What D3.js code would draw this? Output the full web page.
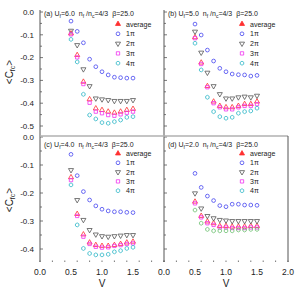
<!DOCTYPE html>
<meta charset="utf-8">
<style>
body { margin: 0; background: #fff; }
text { font-family: "Liberation Sans", Arial, sans-serif; fill: #222; }
</style>
<script src="https://cdnjs.cloudflare.com/ajax/libs/d3/7.8.5/d3.min.js"></script>
<svg width="300" height="291"></svg>
<script>

var V = [0.5, 0.6, 0.7, 0.8, 0.9, 1.0, 1.1, 1.2, 1.3, 1.4, 1.5];

var seriesNames = ["average", "1\u03c0", "2\u03c0", "3\u03c0", "4\u03c0"];

// (a) Uf=6.0
var aAvg = [-0.094,-0.189,-0.306,-0.383,-0.423,-0.430,-0.437,-0.442,-0.437,-0.430,-0.425];
var aPi1 = [-0.040,-0.085,-0.135,-0.207,-0.240,-0.262,-0.276,-0.286,-0.288,-0.290,-0.290];
var aPi2 = [-0.082,-0.145,-0.251,-0.325,-0.379,-0.383,-0.386,-0.390,-0.390,-0.390,-0.386];
var aPi3 = [-0.098,-0.199,-0.316,-0.398,-0.437,-0.444,-0.452,-0.455,-0.449,-0.442,-0.437];
var aPi4 = [-0.120,-0.219,-0.361,-0.452,-0.469,-0.485,-0.488,-0.481,-0.474,-0.462,-0.459];

// (b) Uf=5.0
var bAvg = [-0.111,-0.222,-0.325,-0.393,-0.412,-0.418,-0.418,-0.412,-0.404,-0.404,-0.393];
var bPi1 = [-0.053,-0.101,-0.167,-0.215,-0.247,-0.262,-0.272,-0.275,-0.276,-0.281,-0.278];
var bPi2 = [-0.086,-0.178,-0.266,-0.325,-0.360,-0.379,-0.379,-0.374,-0.371,-0.374,-0.367];
var bPi3 = [-0.115,-0.228,-0.330,-0.400,-0.418,-0.427,-0.427,-0.418,-0.412,-0.412,-0.404];
var bPi4 = [-0.137,-0.254,-0.374,-0.437,-0.459,-0.466,-0.462,-0.444,-0.437,-0.434,-0.422];

// (c) Uf=4.0
var cAvg = [-0.144,-0.275,-0.348,-0.377,-0.386,-0.389,-0.389,-0.386,-0.382,-0.377,-0.374];
var cPi1 = [-0.062,-0.138,-0.195,-0.225,-0.246,-0.258,-0.264,-0.267,-0.267,-0.269,-0.270];
var cPi2 = [-0.118,-0.225,-0.296,-0.332,-0.348,-0.354,-0.356,-0.354,-0.352,-0.350,-0.350];
var cPi3 = [-0.154,-0.282,-0.356,-0.382,-0.392,-0.395,-0.394,-0.389,-0.386,-0.382,-0.380];
var cPi4 = [-0.171,-0.314,-0.398,-0.416,-0.421,-0.421,-0.419,-0.410,-0.406,-0.398,-0.394];

// (d) Uf=2.0
var dAvg = [-0.231,-0.282,-0.302,-0.308,-0.318,-0.318,-0.320,-0.320,-0.320,-0.318,-0.318];
var dPi1 = [-0.130,-0.180,-0.211,-0.227,-0.245,-0.249,-0.240,-0.240,-0.243,-0.243,-0.244];
var dPi2 = [-0.201,-0.255,-0.282,-0.290,-0.296,-0.298,-0.300,-0.300,-0.300,-0.300,-0.300];
var dPi3 = [-0.237,-0.287,-0.308,-0.314,-0.323,-0.323,-0.325,-0.325,-0.325,-0.323,-0.323];
var dPi4 = [-0.261,-0.308,-0.330,-0.335,-0.335,-0.335,-0.335,-0.332,-0.332,-0.330,-0.330];

var topTicks = [0, -0.1, -0.2, -0.3, -0.4, -0.5];
var bottomTicks = [0, -0.1, -0.2, -0.3, -0.4];
var xTicks = [0, 0.5, 1.0, 1.5, 2.0];

var svg = d3.select("svg");

var colors = ["#ff3030", "#4646f0", "#555555", "#f030f0", "#30b8c8"];
var shapes = ["up", "circle", "down", "square", "hex"];

function markerPath(shape) {
  if (shape == "up") return d3.symbol().type(d3.symbolTriangle).size(11)();
  if (shape == "down") return d3.symbol().type(d3.symbolTriangle).size(11)();
  if (shape == "circle") return d3.symbol().type(d3.symbolCircle).size(11)();
  if (shape == "square") return d3.symbol().type(d3.symbolSquare).size(11)();
  var r = 2.0, pts = d3.range(6).map(function(i) {
    var a = Math.PI / 6 + i * Math.PI / 3;
    return [r * Math.cos(a), r * Math.sin(a)];
  });
  return d3.line()(pts) + "Z";
}

var panels = [
  {tag: "(a)", uf: "6.0", x0: 40, x1: 164, top: 10, bottom: 136, yd: [0, -0.5], yr: [12, 126],
   ticks: topTicks, labels: true, data: [aAvg, aPi1, aPi2, aPi3, aPi4], ty: 16, ly: 26.5, ls: 9.8},
  {tag: "(b)", uf: "5.0", x0: 164, x1: 288, top: 10, bottom: 136, yd: [0, -0.5], yr: [12, 126],
   ticks: topTicks, labels: false, data: [bAvg, bPi1, bPi2, bPi3, bPi4], ty: 16, ly: 26.5, ls: 9.8},
  {tag: "(c)", uf: "4.0", x0: 40, x1: 164, top: 136, bottom: 262, yd: [0, -0.4], yr: [137, 249],
   ticks: bottomTicks, labels: true, data: [cAvg, cPi1, cPi2, cPi3, cPi4], ty: 147, ly: 156, ls: 9.3},
  {tag: "(d)", uf: "2.0", x0: 164, x1: 288, top: 136, bottom: 262, yd: [0, -0.4], yr: [137, 249],
   ticks: bottomTicks, labels: false, data: [dAvg, dPi1, dPi2, dPi3, dPi4], ty: 147, ly: 156, ls: 9.3,
   colorOverride: {4: "#6cc070"}}
];

panels.forEach(function(p) {
  var x = d3.scaleLinear().domain([0, 2]).range([p.x0, p.x1]);
  var y = d3.scaleLinear().domain(p.yd).range(p.yr);
  var g = svg.append("g");

  // y axis line + ticks (inside)
  g.append("line").attr("x1", p.x0).attr("x2", p.x0).attr("y1", p.top).attr("y2", p.bottom)
    .attr("stroke", "#555").attr("stroke-width", 1);
  var minor = d3.range(0, p.ticks.length * 2 - 1).map(function(i) { return -i * 0.05; });
  g.selectAll(".ytk").data(minor).enter().append("line")
    .attr("x1", p.x0).attr("x2", function(d, i) { return p.x0 + (i % 2 ? 2 : 3); })
    .attr("y1", function(d) { return y(d); }).attr("y2", function(d) { return y(d); })
    .attr("stroke", "#555").attr("stroke-width", 0.8);
  if (p.labels) {
    g.selectAll(".ylab").data(p.ticks).enter().append("text")
      .attr("x", p.x0 - 6).attr("y", function(d) { return y(d); }).attr("dy", "0.35em")
      .attr("text-anchor", "end").style("font-size", "8px")
      .text(function(d) { return d.toFixed(1); });
  }

  // title line
  var t = g.append("text").attr("x", p.x0 + 4).attr("y", p.ty).style("font-size", "7px");
  t.append("tspan").text(p.tag + " U");
  t.append("tspan").attr("dy", 1.5).style("font-size", "5px").text("f");
  t.append("tspan").attr("dy", -1.5).text("=" + p.uf);
  t.append("tspan").attr("dx", 4).text("n");
  t.append("tspan").attr("dy", 1.5).style("font-size", "5px").text("f");
  t.append("tspan").attr("dy", -1.5).text(" /n");
  t.append("tspan").attr("dy", 1.5).style("font-size", "5px").text("c");
  t.append("tspan").attr("dy", -1.5).text("=4/3");
  t.append("tspan").attr("dx", 4).text("\u03b2=25.0");

  // data series
  p.data.forEach(function(vals, si) {
    var col = (p.colorOverride && p.colorOverride[si]) || colors[si];
    var pts = V.map(function(v, i) { return [v, vals[i]]; });
    g.selectAll(".pt" + si).data(pts).enter().append("path")
      .attr("d", markerPath(shapes[si]))
      .attr("transform", function(d) {
        return "translate(" + x(d[0]) + "," + y(d[1]) + ")" + (shapes[si] == "down" ? " rotate(180)" : "");
      })
      .attr("fill", "none").attr("stroke", col).attr("stroke-width", 0.8);
  });

  // legend
  seriesNames.forEach(function(name, si) {
    var ly = p.ly + si * p.ls;
    g.append("path").attr("d", markerPath(shapes[si]))
      .attr("transform", "translate(" + (p.x0 + 78) + "," + (ly - 2.5) + ")" + (shapes[si] == "down" ? " rotate(180)" : ""))
      .attr("fill", si == 0 ? colors[0] : "none").attr("stroke", colors[si]).attr("stroke-width", 0.8);
    g.append("text").attr("x", p.x0 + 86).attr("y", ly).style("font-size", "7px").text(name);
  });

  // x axis for bottom panels
  if (p.bottom == 262) {
    g.selectAll(".xtk").data(d3.range(0, 2.01, 0.2)).enter().append("line")
      .attr("x1", function(d) { return x(d); }).attr("x2", function(d) { return x(d); })
      .attr("y1", p.bottom).attr("y2", p.bottom - 1.5)
      .attr("stroke", "#555").attr("stroke-width", 0.8);
    var xl = p.labels ? xTicks.slice(0, 4) : xTicks;
    g.selectAll(".xlab").data(xl).enter().append("text")
      .attr("x", function(d) { return x(d); }).attr("y", 275)
      .attr("text-anchor", "middle").style("font-size", "8.5px")
      .text(function(d) { return d.toFixed(1); });
    g.append("text").attr("x", x(1)).attr("y", 287).attr("text-anchor", "middle")
      .style("font-size", "10px").text("V");
  }
});

// separator between top and bottom rows, right border of (d)
svg.append("line").attr("x1", 40).attr("x2", 288).attr("y1", 136).attr("y2", 136)
  .attr("stroke", "#b0b0b0").attr("stroke-width", 1.5);
svg.append("line").attr("x1", 288).attr("x2", 288).attr("y1", 136).attr("y2", 262)
  .attr("stroke", "#555").attr("stroke-width", 1);

// y axis titles
[72, 200].forEach(function(cy) {
  var yt = svg.append("text").attr("transform", "translate(13," + cy + ") rotate(-90)")
    .attr("text-anchor", "middle").style("font-size", "10px");
  yt.append("tspan").text("<C");
  yt.append("tspan").attr("dy", 2).style("font-size", "7px").text("fc");
  yt.append("tspan").attr("dy", -2).text(">");
});

</script>
